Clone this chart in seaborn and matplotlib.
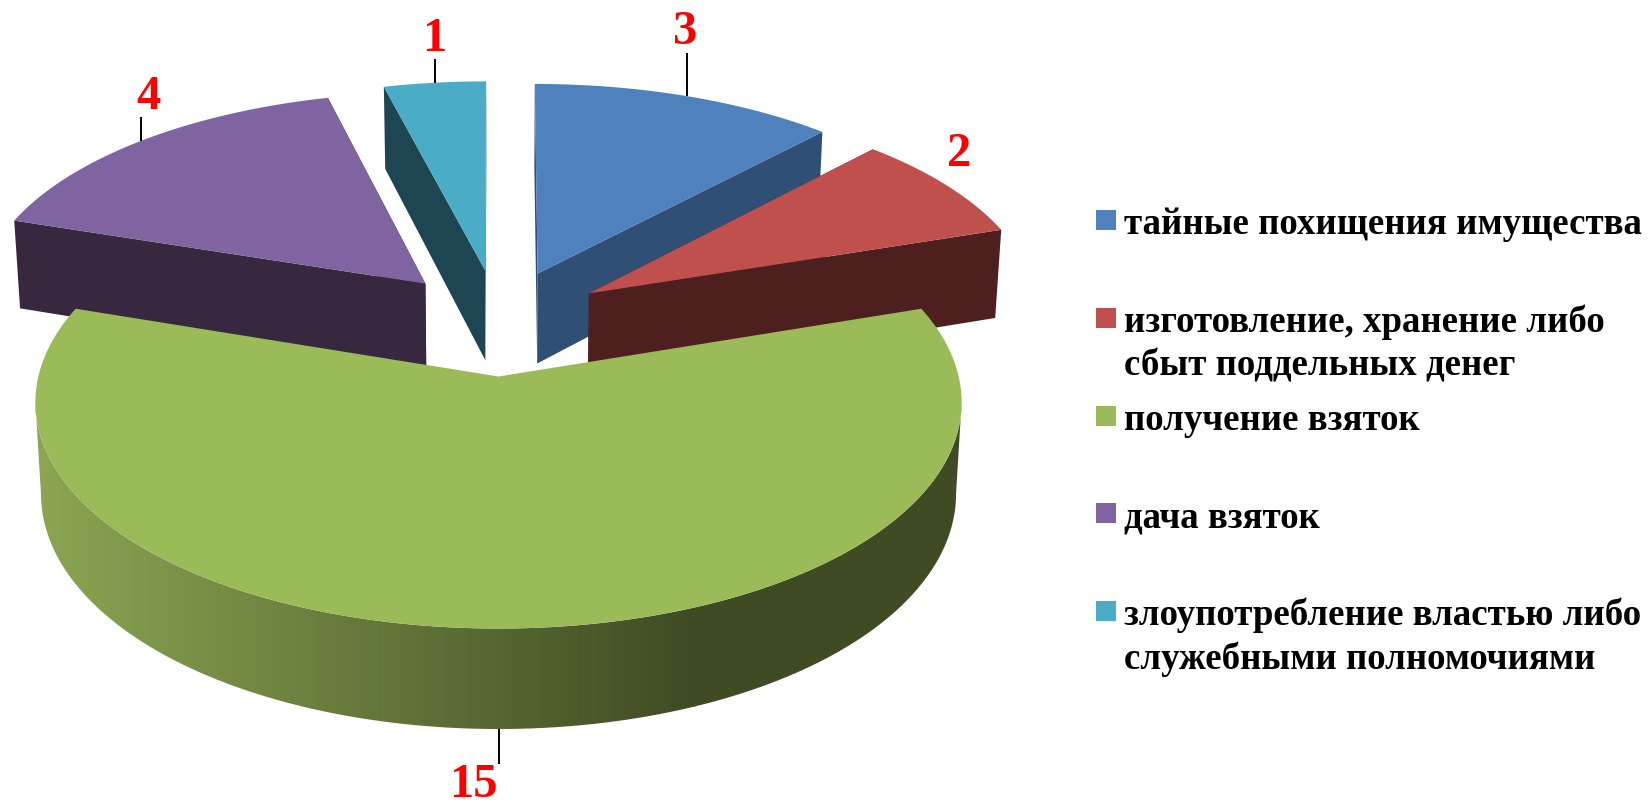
import numpy as np
import pandas as pd
import matplotlib
matplotlib.use("Agg")
import matplotlib.pyplot as plt
from matplotlib.patches import Polygon
import seaborn as sns

# ---- data ----
categories = ["тайные похищения имущества",
              "изготовление, хранение либо\nсбыт поддельных денег",
              "получение взяток",
              "дача взяток",
              "злоупотребление властью либо\nслужебными полномочиями"]
values = [3, 2, 15, 4, 1]

# ---- style ----
top_colors = ["#4F81BD", "#C0504D", "#9BBB59", "#8064A2", "#4BACC6"]
side_colors = ["#2F4F75", "#4D1F1F", "#3F4B23", "#37283F", "#1E4652"]
wall_light, wall_dark = "#8CA653", "#3F4B23"

sns.set_theme(style="white")
plt.rcParams["font.family"] = ["Liberation Serif", "DejaVu Serif"]

W, H = 1649, 811
fig = plt.figure(figsize=(W / 100, H / 100), dpi=100, facecolor="white")
ax = fig.add_axes([0, 0, 1, 1])

# Projection of the tilted disc into pixels: (Y0, A, B, PX) for back slices and the front slice
CX, PY, BOTTOM_X, EXPLODE = 498.5, 0.10, 0.988, 0.24
BACK_VIEW = (321.0, 451.0, 217.5, 0.08)
FRONT_VIEW = (323.5, 448.0, 215.5, 0.11)
THICK_BACK, THICK_FRONT = 92.0, 88.0


def project(X, Y, view, thick=0.0):
    Y0, A, B, PX = view
    X, Y = np.asarray(X), np.asarray(Y)
    sx = 1.0 / (1.0 + PX * Y)
    sy = 1.0 / (1.0 + PY * Y)
    shrink = BOTTOM_X if thick else 1.0
    return CX + A * X * sx * shrink, Y0 - B * Y * sy + thick * sy


vals = np.array(values, dtype=float)
edges = np.concatenate([[0], np.cumsum(vals)]) / vals.sum() * 2 * np.pi
mids = (edges[:-1] + edges[1:]) / 2


def slice_xy(i, th):
    return (np.sin(th) + EXPLODE * np.sin(mids[i]),
            np.cos(th) + EXPLODE * np.cos(mids[i]))


def apex_xy(i):
    return EXPLODE * np.sin(mids[i]), EXPLODE * np.cos(mids[i])


def radial_face(i, th, color, z):
    ax_, ay_ = apex_xy(i)
    rx, ry = slice_xy(i, th)
    p1 = project(ax_, ay_, BACK_VIEW)
    p2 = project(rx, ry, BACK_VIEW)
    p3 = project(rx, ry, BACK_VIEW, THICK_BACK)
    p4 = project(ax_, ay_, BACK_VIEW, THICK_BACK)
    ax.fill([p1[0], p2[0], p3[0], p4[0]], [p1[1], p2[1], p3[1], p4[1]],
            color=color, lw=0, zorder=z)


def top_face(i, color, z, view):
    th = np.linspace(edges[i], edges[i + 1], 200)
    X, Y = slice_xy(i, th)
    ax_, ay_ = apex_xy(i)
    px, py = project(np.r_[ax_, X], np.r_[ay_, Y], view)
    ax.fill(px, py, color=color, lw=0, zorder=z)


# back slices: teal, purple, blue, red
for z, i in enumerate([4, 3, 0, 1]):
    radial_face(i, edges[i], side_colors[i], 2 + z * 2)
    radial_face(i, edges[i + 1], side_colors[i], 2 + z * 2)
    top_face(i, top_colors[i], 3 + z * 2, BACK_VIEW)

# green slice: outer wall (front-facing part) as a horizontal gradient, then the top
G = 2
th = np.linspace(edges[G], edges[G + 1], 1440)
X, Y = slice_xy(G, th)
ux, uy = project(X, Y, FRONT_VIEW)
i_r, i_l = int(np.argmax(ux)), int(np.argmin(ux))
lx, ly = project(X, Y, FRONT_VIEW, THICK_FRONT)
j_r, j_l = int(np.argmax(lx)), int(np.argmin(lx))
outline = Polygon(np.c_[np.r_[ux[i_r:i_l + 1], lx[j_r:j_l + 1][::-1]],
                        np.r_[uy[i_r:i_l + 1], ly[j_r:j_l + 1][::-1]]],
                  closed=True, transform=ax.transData, fc="none", ec="none")
ax.add_patch(outline)
GRAD_X0, GRAD_X1 = 35, 695
ramp = np.array(sns.blend_palette([wall_light, wall_dark], 256))
for extent, colors, interp in [([GRAD_X0, GRAD_X1, H, 0], ramp, "bilinear"),
                               ([GRAD_X1 - 1, W, H, 0], ramp[[255]], "nearest"),
                               ([0, GRAD_X0 + 1, H, 0], ramp[[0]], "nearest")]:
    im = ax.imshow(colors[np.newaxis, :, :], extent=extent, aspect="auto", zorder=10,
                   interpolation=interp)
    im.set_clip_path(outline)
top_face(G, top_colors[G], 11, FRONT_VIEW)

# data labels with leader lines
leader_len = [43, 0, 35, 24, 24]
label_dx = [-2, 0, -25, 7, 0]
label_dy = [-21.5, 0, 21, -20, -20]
red_pos = (959, 154.5)
for i, v in enumerate(values):
    rx, ry = slice_xy(i, mids[i])
    if i == G:
        px, py = project(rx, ry, FRONT_VIEW, THICK_FRONT)
    else:
        px, py = project(rx, ry, BACK_VIEW)
    if i == 1:
        lx_, ly_ = red_pos
    else:
        sgn = 1 if i == G else -1
        ax.plot([px, px], [py, py + sgn * leader_len[i]], color="black", lw=1.4,
                solid_capstyle="butt", zorder=12)
        lx_, ly_ = px + label_dx[i], py + sgn * leader_len[i] + label_dy[i]
    ax.text(lx_, ly_, str(v), color="#FF0000", fontsize=35, fontweight="bold",
            ha="center", va="center", zorder=13)

# legend
leg_y = [220, 318, 416, 513, 611]
leg_df = pd.DataFrame({"x": [1106] * 5, "y": leg_y, "cat": categories})
sns.scatterplot(data=leg_df, x="x", y="y", hue="cat", palette=top_colors, marker="s",
                s=205, linewidth=0, legend=False, ax=ax, zorder=14)
for y, name in zip(leg_y, categories):
    for j, line in enumerate(name.split("\n")):
        ax.text(1124.5, y + 4.5 + j * 43.5, line, color="black", fontsize=26.6,
                fontweight="bold", ha="left", va="center", zorder=14)

ax.set_xlim(0, W)
ax.set_ylim(H, 0)
ax.set_xlabel("")
ax.set_ylabel("")
ax.axis("off")
fig.savefig("out.png", dpi=100, facecolor="white")
